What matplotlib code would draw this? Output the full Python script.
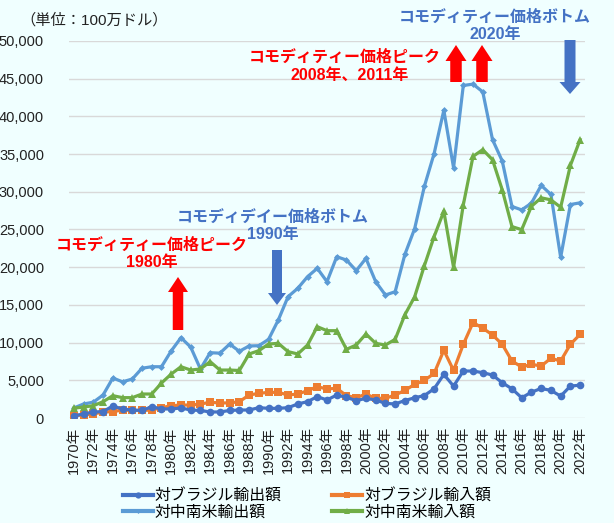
import matplotlib
matplotlib.use("Agg")
import matplotlib.pyplot as plt
from matplotlib.patches import FancyArrow
from matplotlib.transforms import IdentityTransform
from matplotlib.lines import Line2D

plt.rcParams['font.family'] = ['Liberation Sans', 'Noto Sans CJK JP', 'DejaVu Sans']

years = list(range(1970, 2023))
year_labels = [f"{y}年" for y in years]

brazil_export = [300, 530, 800, 850, 1590, 1190, 1060, 1000, 1500, 1200,
                 1200, 1330, 1060, 1000, 800, 800, 1000, 1060, 1060, 1370,
                 1280, 1280, 1370, 1860, 2170, 2830, 2390, 3050, 2740, 2300,
                 2610, 2390, 1940, 1860, 2320, 2680, 2980, 3870, 5780, 4230,
                 6230, 6230, 6010, 5700, 4680, 3870, 2680, 3430, 3920, 3660,
                 2900, 4230, 4360]
brazil_import = [300, 400, 530, 800, 840, 1060, 1000, 1000, 1060, 1370,
                 1630, 1720, 1720, 1860, 2080, 2000, 2000, 2170, 3050, 3270,
                 3400, 3400, 3050, 3180, 3620, 4150, 3850, 3940, 2960, 2700,
                 3180, 2610, 2610, 3050, 3660, 4460, 4990, 5910, 8980, 6310,
                 9770, 12660, 11910, 11020, 9770, 7560, 6760, 7120, 6900, 7920,
                 7560, 9770, 11100]
latam_export = [1330, 1860, 2100, 3050, 5300, 4800, 5170, 6600, 6800, 6800,
                8900, 10650, 9400, 6500, 8660, 8600, 9800, 8850, 9550, 9590,
                10430, 13000, 16090, 17200, 18740, 19850, 18080, 21390, 20950, 19540,
                21170, 18080, 16310, 16750, 21700, 25100, 30710, 35060, 40810, 33190,
                44100, 44280, 43250, 36920, 34080, 28050, 27600, 28500, 30850, 29650,
                21310, 28310, 28540]
latam_import = [1300, 1460, 1630, 2160, 2960, 2700, 2700, 3180, 3180, 4640,
                5830, 6800, 6360, 6500, 7470, 6360, 6360, 6300, 8490, 8930,
                9810, 9900, 8800, 8490, 9680, 12110, 11580, 11580, 9110, 9680,
                11140, 9900, 9680, 10430, 13690, 16070, 20200, 24050, 27420, 19970,
                28270, 34700, 35590, 34250, 30260, 25380, 24980, 28080, 29200, 28930,
                27950, 33500, 36920]

series_names = ["対ブラジル輸出額", "対ブラジル輸入額", "対中南米輸出額", "対中南米輸入額"]
colors = ["#4472C4", "#ED7D31", "#5B9BD5", "#70AD47"]
markers = ["o", "s", "D", "^"]
msizes = [5.5, 6, 3.5, 6]

W, H = 614, 523
bg = "#F0FFFF"
fig = plt.figure(figsize=(W / 100, H / 100), dpi=100, facecolor=bg)
ax = fig.add_axes([69 / W, 1 - 418 / H, (585 - 69) / W, (418 - 41) / H])
ax.set_facecolor(bg)

x = list(range(len(years)))
data = [brazil_export, brazil_import, latam_export, latam_import]
order = [2, 3, 1, 0]
handles = {}
for i in order:
    ln, = ax.plot(x, data[i], color=colors[i], lw=2.3, marker=markers[i],
                  markersize=msizes[i], markeredgewidth=0, label=series_names[i],
                  zorder=3)
    handles[i] = ln

ax.set_xlim(-0.5, len(years) - 0.5)
ax.set_ylim(0, 50000)
ax.set_yticks(range(0, 50001, 5000))
ax.set_yticklabels([f"{v:,}" for v in range(0, 50001, 5000)], fontsize=10.5, color="#222222")
ax.yaxis.grid(True, color="#D9D9D9", lw=1)
ax.set_axisbelow(True)
ax.set_xticks(x[::2])
ax.set_xticklabels(year_labels[::2], rotation=90, fontsize=10.5, color="#222222")
for s in ax.spines.values():
    s.set_visible(False)
ax.tick_params(axis='both', length=0)
ax.tick_params(axis='y', pad=18)
ax.tick_params(axis='x', pad=6)

# legend
leg_handles = [Line2D([], [], color=colors[i], lw=3, marker=markers[i], markersize=msizes[i] - 1,
                      markeredgewidth=0) for i in [0, 2, 1, 3]]
leg_labels = [series_names[i] for i in [0, 2, 1, 3]]
fig.legend(leg_handles, leg_labels, ncol=2, frameon=False, loc='center',
           bbox_to_anchor=(307 / W, 1 - 504 / H), fontsize=11.4, handlelength=1.9,
           handletextpad=0.1, columnspacing=3.2, labelspacing=0.1)

def ft(xp, yp, s, color, size=11.5, ha='center'):
    fig.text(xp / W, 1 - yp / H, s, color=color, fontsize=size, fontweight='bold',
             ha=ha, va='center')

RED = "#FF0000"
BLUE = "#4472C4"
fig.text(20 / W, 1 - 20 / H, "（単位：100万ドル）", fontsize=11, color="#222222", va='center', ha='left')

ft(152, 245, "コモディティー価格ピーク", RED)
ft(152, 263, "1980年", RED)
ft(273, 217, "コモディデイー価格ボトム", BLUE)
ft(273, 234, "1990年", BLUE)
ft(345, 57, "コモディティー価格ピーク", RED)
ft(350, 75, "2008年、2011年", RED)
ft(495, 17, "コモディティー価格ボトム", BLUE)
ft(495, 34, "2020年", BLUE)

def arrow(xp, y0, y1, color, shaft=10.5, head=20, hl=15):
    # y in image pixel coords (top origin); arrow from y0 to y1
    a = FancyArrow(xp, H - y0, 0, -(y1 - y0), width=shaft, head_width=head,
                   head_length=hl, length_includes_head=True, color=color,
                   transform=IdentityTransform(), lw=0)
    fig.patches.append(a)

arrow(178, 330, 277, RED)
arrow(277, 250, 305, BLUE, shaft=10, head=18, hl=12)
arrow(456, 82, 45, RED, shaft=11.5, head=21, hl=16)
arrow(482, 82, 45, RED, shaft=11.5, head=21, hl=16)
arrow(570, 40, 94, BLUE, shaft=11, head=21, hl=12)

fig.savefig("out.png", dpi=100, facecolor=bg)
